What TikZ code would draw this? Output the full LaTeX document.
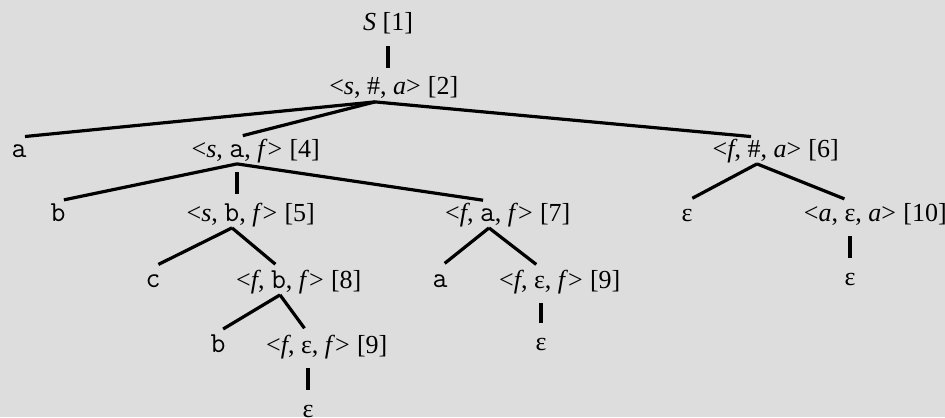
\documentclass[tikz,border=0pt]{standalone}
\usepackage{fontspec}
\setmainfont{Liberation Serif}
\usepackage{tikz}
\usetikzlibrary{positioning}
\definecolor{panel}{RGB}{221,221,221}
\newcommand{\triple}[3]{<#1, #2, #3>}
\newcommand{\sym}[1]{{\fontsize{14.5}{15}\selectfont\ttfamily #1}}
\newcommand{\var}[1]{\textit{#1}}

\begin{document}
\begin{tikzpicture}[x=0.5pt, y=-0.5pt,
    every node/.style={font=\fontsize{13}{15}\selectfont, inner sep=0pt, text height=9.75pt, text depth=3.25pt},
    every label/.style={label distance=3.2pt},
    tuple/.style={anchor=base},
    leaf/.style={anchor=base, font=\fontsize{14.5}{15}\selectfont\ttfamily},
    branch/.style={line width=1.6pt, shorten >=3pt},
    stem/.style={line width=1.6pt, shorten <=4pt, shorten >=3.5pt}
]

        \fill[panel] (0,0) rectangle (945,417);
        \useasboundingbox (0,0) rectangle (945,417);

        % level 1 and 2
        \node[tuple, name=n1] at(388,31) {\var{S} [1]};
        \node[tuple, name=n2, label={right:{[2]}}] at(375,95) {\triple{\var{s}}{\#}{\var{a}}};

        % level 3
        \node[leaf, name=ta] at(19,157) {a};
        \node[tuple, name=n4, label={right:{[4]}}] at(237,157) {\triple{\var{s}}{\sym{a}}{\var{f}}};
        \node[tuple, name=n6, label={right:{[6]}}] at(757,157) {\triple{\var{f}}{\#}{\var{a}}};

        % level 4
        \node[leaf, name=tb] at(58,221) {b};
        \node[tuple, name=n5, label={right:{[5]}}] at(232,221) {\triple{\var{s}}{\sym{b}}{\var{f}}};
        \node[tuple, name=n7, label={right:{[7]}}] at(489,221) {\triple{\var{f}}{\sym{a}}{\var{f}}};
        \node[tuple, name=e1] at(687,221) {ε};
        \node[tuple, name=n10, label={right:{[10]}}] at(850,221) {\triple{\var{a}}{ε}{\var{a}}};

        % level 5
        \node[leaf, name=tc] at(153,287) {c};
        \node[tuple, name=n8, label={right:{[8]}}] at(280,288) {\triple{\var{f}}{\sym{b}}{\var{f}}};
        \node[leaf, name=ta2] at(440,287) {a};
        \node[tuple, name=n9b, label={right:{[9]}}] at(541,288) {\triple{\var{f}}{ε}{\var{f}}};
        \node[tuple, name=e2] at(850,285) {ε};

        % level 6 and 7
        \node[leaf, name=tb2] at(218,352) {b};
        \node[tuple, name=n9a, label={right:{[9]}}] at(308,353) {\triple{\var{f}}{ε}{\var{f}}};
        \node[tuple, name=e3] at(541,350) {ε};
        \node[tuple, name=e4] at(308,417) {ε};

        \draw[stem] (n1.south) -- (n1.south |- n2.north);

        \draw[branch] (n2.south) -- (ta.north);
        \draw[branch] (n2.south) -- (n4.north);
        \draw[branch] (n2.south) -- (n6.north);

        \draw[branch] (n4.south) -- (tb.north);
        \draw[stem] (n4.south) -- (n4.south |- n5.north);
        \draw[branch] (n4.south) -- (n7.north);

        \draw[branch] (n5.south) -- (tc.north);
        \draw[branch] (n5.south) -- (n8.north);

        \draw[branch] (n8.south) -- (tb2.north);
        \draw[branch] (n8.south) -- (n9a.north);
        \draw[stem] (n9a.south) -- (n9a.south |- e4.north);

        \draw[branch] (n7.south) -- (ta2.north);
        \draw[branch] (n7.south) -- (n9b.north);
        \draw[stem] (n9b.south) -- (n9b.south |- e3.north);

        \draw[branch] (n6.south) -- (e1.north);
        \draw[branch] (n6.south) -- (n10.north);
        \draw[stem] (n10.south) -- (n10.south |- e2.north);

\end{tikzpicture}
\end{document}
